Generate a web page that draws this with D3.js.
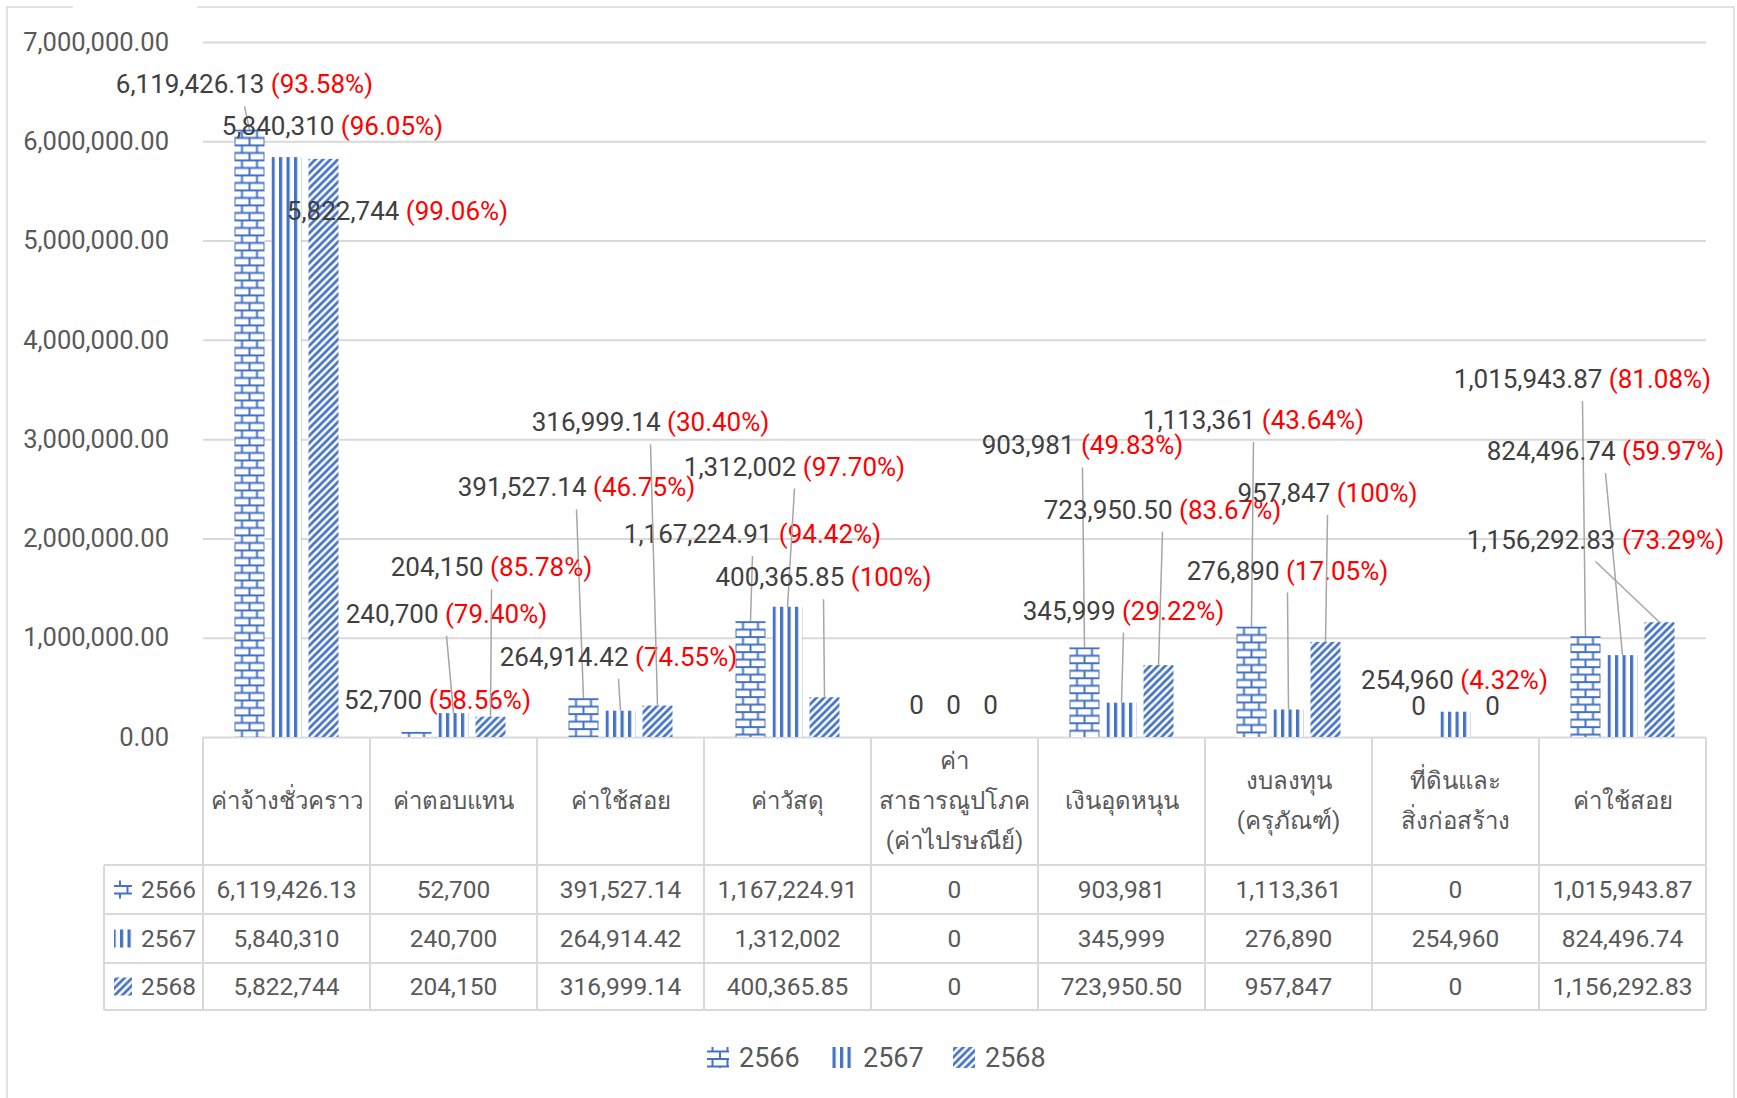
<!DOCTYPE html>
<html>
<head>
<meta charset="utf-8">
<script src="https://cdn.jsdelivr.net/npm/d3@7"></script>
<style>
  body { margin: 0; background: #fff; }
  svg text { font-family: Roboto, "Noto Sans", sans-serif; }
</style>
</head>
<body>
<svg id="chart" width="1737" height="1098"></svg>
<script>
/*    ========    DATA    =========    */

var categories = ["ค่าจ้างชั่วคราว", "ค่าตอบแทน", "ค่าใช้สอย", "ค่าวัสดุ",
    "ค่า\nสาธารณูปโภค\n(ค่าไปรษณีย์)", "เงินอุดหนุน", "งบลงทุน\n(ครุภัณฑ์)",
    "ที่ดินและ\nสิ่งก่อสร้าง", "ค่าใช้สอย"];
var years = ["2566", "2567", "2568"];

var values2566 = [6119426.13, 52700, 391527.14, 1167224.91, 0, 903981, 1113361, 0, 1015943.87];
var values2567 = [5840310, 240700, 264914.42, 1312002, 0, 345999, 276890, 254960, 824496.74];
var values2568 = [5822744, 204150, 316999.14, 400365.85, 0, 723950.50, 957847, 0, 1156292.83];

var pct2566 = ["93.58%", "58.56%", "46.75%", "94.42%", null, "49.83%", "43.64%", null, "81.08%"];
var pct2567 = ["96.05%", "79.40%", "74.55%", "97.70%", null, "29.22%", "17.05%", "4.32%", "59.97%"];
var pct2568 = ["99.06%", "85.78%", "30.40%", "100%", null, "83.67%", "100%", null, "73.29%"];

var yTicks = [0, 1000000, 2000000, 3000000, 4000000, 5000000, 6000000, 7000000];

/*    ========    LABEL LAYOUT (hand placed, like the workbook)    =========    */
// x shift from the bar centre (px) and label centre height (value units, millions)
var labelDx2566 = [-5, 21, -7, 2, -1, -2, 2, 0, -3];
var labelDx2567 = [46, -7, -2, 7, -1, 2, -1, -1, -17];
var labelDx2568 = [74, 1, -7, -1, -1, 4, 2, 0, -64];
var labelAt2566 = [6.574, 0.372, 2.514, 2.044, 0.326, 2.937, 3.193, 0.315, 3.606];
var labelAt2567 = [6.150, 1.242, 0.807, 2.725, 0.326, 1.275, 1.677, 0.572, 2.881];
var labelAt2568 = [5.302, 1.710, 3.171, 1.609, 0.326, 2.290, 2.457, 0.315, 1.989];
var leader2566 = [1, 0, 1, 1, 0, 1, 1, 0, 1];
var leader2567 = [0, 1, 1, 1, 0, 1, 1, 0, 1];
var leader2568 = [0, 1, 1, 1, 0, 1, 1, 0, 1];

/*    ========    SETTINGS    =========    */

var svg = d3.select("#chart");
var BLUE = "#4472c4";
var GRID = "#d9d9d9";
var TEXT = "#595959";

var plotLeft = 203, plotRight = 1706, plotTop = 42, plotBottom = 737;
var rowLines = [865, 914, 963, 1010];
var tableLeft = 104;

var series = [
    { year: "2566", values: values2566, pct: pct2566, dx: labelDx2566, at: labelAt2566, lead: leader2566, pat: "pBrick" },
    { year: "2567", values: values2567, pct: pct2567, dx: labelDx2567, at: labelAt2567, lead: leader2567, pat: "pVert" },
    { year: "2568", values: values2568, pct: pct2568, dx: labelDx2568, at: labelAt2568, lead: leader2568, pat: "pDiag" }
];

function fmt(v) {
    return Number.isInteger(v) ? d3.format(",")(v) : d3.format(",.2f")(v);
}

/*    ========    SCALES    =========    */

var x0 = d3.scaleBand().domain(d3.range(categories.length)).range([plotLeft, plotRight]).padding(0);
var x1 = d3.scaleBand().domain(years).range([-52, 52]).paddingInner(0.19);
var y = d3.scaleLinear().domain([0, 7000000]).range([plotBottom, plotTop]);

function barCx(i, yr) { return x0(i) + x0.bandwidth() / 2 + x1(yr) + x1.bandwidth() / 2; }

/*    ========    PATTERNS    =========    */

var defs = svg.append("defs");

var brick = defs.append("pattern").attr("id", "pBrick")
    .attr("patternUnits", "userSpaceOnUse").attr("width", 15).attr("height", 15);
brick.append("rect").attr("width", 15).attr("height", 15).attr("fill", "#fff");
brick.append("path")
    .attr("d", "M0,1H15M0,8.5H15M7.5,1V8.5M0,8.5V15M15,8.5V15")
    .attr("stroke", BLUE).attr("stroke-width", 2).attr("fill", "none");

var vert = defs.append("pattern").attr("id", "pVert")
    .attr("patternUnits", "userSpaceOnUse").attr("width", 7.5).attr("height", 10);
vert.append("rect").attr("width", 7.5).attr("height", 10).attr("fill", "#fff");
vert.append("rect").attr("width", 3.2).attr("height", 10).attr("fill", BLUE);

var diag = defs.append("pattern").attr("id", "pDiag")
    .attr("patternUnits", "userSpaceOnUse").attr("width", 7.5).attr("height", 7.5);
diag.append("rect").attr("width", 7.5).attr("height", 7.5).attr("fill", "#fff");
diag.append("path")
    .attr("d", "M-2,2L2,-2M0,7.5L7.5,0M5.5,9.5L9.5,5.5")
    .attr("stroke", BLUE).attr("stroke-width", 2.8);

/*    ========    FRAME + GRID    =========    */

svg.append("path")
    .attr("d", "M7,1098V7H73M197,7H1734V1098")
    .attr("fill", "none").attr("stroke", GRID).attr("stroke-width", 1.5);

var grid = svg.append("g")
    .attr("transform", "translate(" + plotLeft + ",0)")
    .call(d3.axisLeft(y).tickValues(yTicks).tickSize(-(plotRight - plotLeft)).tickFormat(""));
grid.select(".domain").remove();
grid.selectAll("line").attr("stroke", GRID).attr("stroke-width", 2);

var yAxis = svg.append("g")
    .attr("transform", "translate(" + plotLeft + ",0)")
    .call(d3.axisLeft(y).tickValues(yTicks).tickSize(0).tickPadding(34).tickFormat(d3.format(",.2f")));
yAxis.select(".domain").remove();
yAxis.selectAll("text").attr("fill", TEXT).style("font-size", "25.5px");

/*    ========    BARS    =========    */

series.forEach(function(s) {
    var g = svg.append("g").attr("class", "series-" + s.year);
    g.selectAll("g.bar")
        .data(s.values)
        .join("g")
        .attr("class", "bar")
        .attr("transform", function(d, i) {
            return "translate(" + (x0(i) + x0.bandwidth() / 2 + x1(s.year)) + "," + y(d) + ")";
        })
        .append("rect")
        .attr("width", x1.bandwidth())
        .attr("height", function(d) { return y(0) - y(d); })
        .attr("fill", "url(#" + s.pat + ")");
});

/*    ========    LEADERS + LABELS    =========    */

var labels = svg.append("g");
series.forEach(function(s) {
    s.values.forEach(function(v, i) {
        var cx = barCx(i, s.year);
        var lx = cx + s.dx[i];
        var ly = y(s.at[i] * 1e6);
        if (s.lead[i]) {
            labels.append("line")
                .attr("x1", lx).attr("y1", ly + 22)
                .attr("x2", cx).attr("y2", y(v))
                .attr("stroke", "#a6a6a6").attr("stroke-width", 1.5);
        }
        var t = labels.append("text")
            .attr("x", lx).attr("y", ly)
            .attr("dy", "0.35em")
            .attr("text-anchor", "middle")
            .style("font-size", "26px");
        t.append("tspan").attr("fill", "#404040").text(fmt(v));
        if (s.pct[i]) {
            t.append("tspan").attr("fill", "#ff0000").text(" (" + s.pct[i] + ")");
        }
    });
});

/*    ========    DATA TABLE    =========    */

var table = svg.append("g");

// vertical borders
table.selectAll("line.v")
    .data(d3.range(categories.length + 1))
    .join("line")
    .attr("x1", function(d) { return plotLeft + d * x0.step(); })
    .attr("x2", function(d) { return plotLeft + d * x0.step(); })
    .attr("y1", plotBottom).attr("y2", rowLines[3])
    .attr("stroke", GRID).attr("stroke-width", 2);
table.append("line")
    .attr("x1", tableLeft).attr("x2", tableLeft)
    .attr("y1", rowLines[0]).attr("y2", rowLines[3])
    .attr("stroke", GRID).attr("stroke-width", 2);
table.selectAll("line.h")
    .data(rowLines)
    .join("line")
    .attr("x1", tableLeft).attr("x2", plotRight)
    .attr("y1", function(d) { return d; }).attr("y2", function(d) { return d; })
    .attr("stroke", GRID).attr("stroke-width", 2);

// category headers
categories.forEach(function(c, i) {
    var lines = c.split("\n");
    var cy = (plotBottom + rowLines[0]) / 2;
    var t = table.append("text")
        .attr("x", x0(i) + x0.bandwidth() / 2)
        .attr("text-anchor", "middle")
        .attr("fill", TEXT)
        .style("font-size", "24px");
    lines.forEach(function(l, k) {
        t.append("tspan")
            .attr("x", x0(i) + x0.bandwidth() / 2)
            .attr("y", cy + (k - (lines.length - 1) / 2) * 40)
            .attr("dy", "0.35em")
            .text(l);
    });
});

// data rows
series.forEach(function(s, r) {
    var cy = (rowLines[r] + rowLines[r + 1]) / 2;
    table.append("rect")
        .attr("x", 114).attr("y", cy - 9)
        .attr("width", 18).attr("height", 18)
        .attr("fill", "url(#" + s.pat + ")");
    table.append("text")
        .attr("x", 141).attr("y", cy).attr("dy", "0.35em")
        .attr("fill", TEXT).style("font-size", "24.5px")
        .text(s.year);
    table.selectAll(null)
        .data(s.values)
        .join("text")
        .attr("x", function(d, i) { return x0(i) + x0.bandwidth() / 2; })
        .attr("y", cy).attr("dy", "0.35em")
        .attr("text-anchor", "middle")
        .attr("fill", TEXT).style("font-size", "24.5px")
        .text(function(d) { return fmt(d); });
});

/*    ========    LEGEND    =========    */

var legendX = [707, 831, 953];
var legend = svg.append("g").attr("transform", "translate(0,1058)");
series.forEach(function(s, k) {
    legend.append("rect")
        .attr("x", legendX[k]).attr("y", -11)
        .attr("width", 22).attr("height", 21)
        .attr("fill", "url(#" + s.pat + ")");
    legend.append("text")
        .attr("x", legendX[k] + 32).attr("y", 0).attr("dy", "0.35em")
        .attr("fill", TEXT).style("font-size", "27px")
        .text(s.year);
});
</script>
</body>
</html>
